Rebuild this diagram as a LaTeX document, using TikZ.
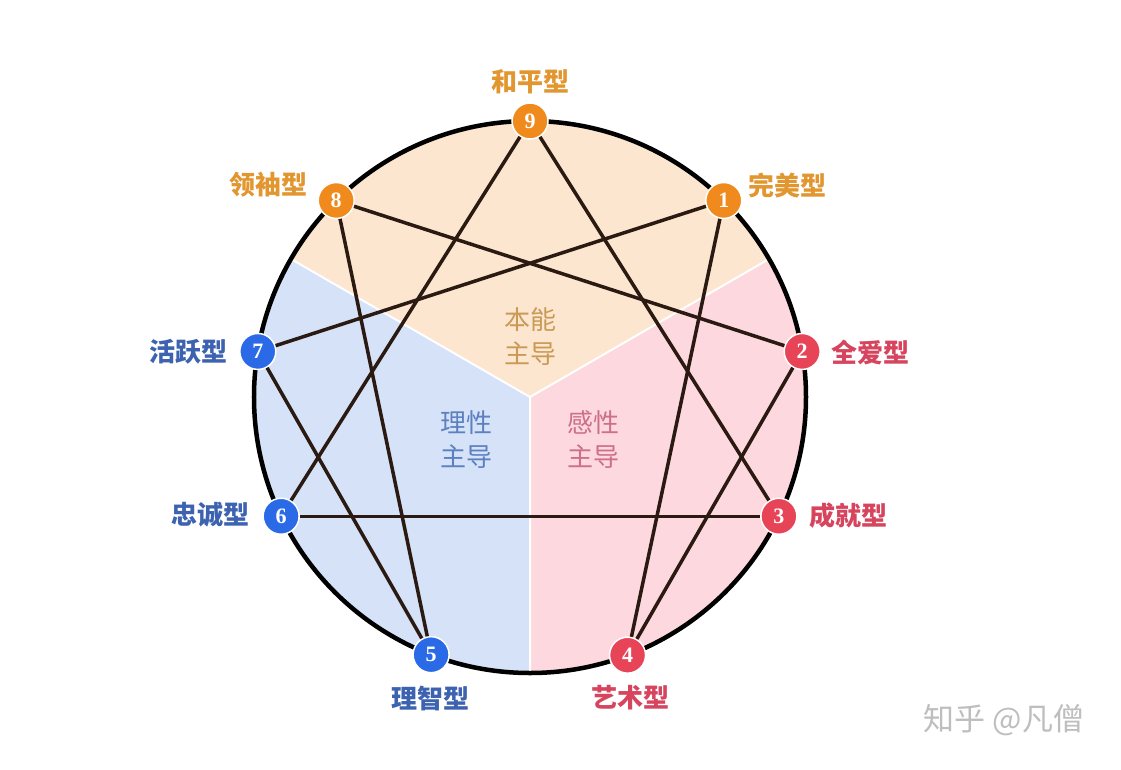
\documentclass[tikz,border=0pt]{standalone}
\usepackage{fontspec}
\usepackage{tikz}
\newfontfamily\cjk{Noto Sans CJK SC}
\newfontfamily\numfont{Liberation Serif}
\definecolor{type_orange}{RGB}{240,138,28}
\definecolor{type_blue}{RGB}{42,106,230}
\definecolor{type_red}{RGB}{232,68,88}
\definecolor{label_orange}{RGB}{226,150,48}
\definecolor{label_blue}{RGB}{60,98,176}
\definecolor{label_red}{RGB}{214,68,94}
\definecolor{fill_orange}{RGB}{253,230,207}
\definecolor{fill_blue}{RGB}{213,226,248}
\definecolor{fill_red}{RGB}{253,216,223}
\definecolor{edge_dark}{RGB}{43,26,18}

\begin{document}
\begin{tikzpicture}[x=1pt,y=1pt]
    \tikzstyle{point}=[circle, draw=white, line width=1.5pt, minimum size=36pt, inner sep=0pt, text=white, font=\numfont\bfseries\fontsize{22}{22}\selectfont]
    \tikzstyle{tname}=[font=\cjk\bfseries\fontsize{26}{26}\selectfont]
    \tikzstyle{group}=[align=center, font=\cjk\fontsize{26}{34}\selectfont]
    \tikzstyle{line}=[edge_dark, line width=3.5pt]

    \useasboundingbox (-530,-372) rectangle (591,397);

    % three centres
    \fill[fill_orange] (0,0) -- (30:276) arc (30:150:276) -- cycle;
    \fill[fill_blue]   (0,0) -- (150:276) arc (150:270:276) -- cycle;
    \fill[fill_red]    (0,0) -- (270:276) arc (270:390:276) -- cycle;
    \draw[white, line width=2pt] (30:276) -- (0,0) -- (150:276) (0,0) -- (270:276);
    \draw[black, line width=4.5pt] (0,0) circle (276);

    \node[group, text={rgb,255:red,201;green,154;blue,85}] (gut)   at (0,60)    {本能\\主导};
    \node[group, text={rgb,255:red,92;green,128;blue,192}] (head)  at (-63,-43) {理性\\主导};
    \node[group, text={rgb,255:red,204;green,112;blue,136}] (heart) at (63,-43)  {感性\\主导};

    \node[point, fill=type_orange] (n9) at (90:276)    {9};
    \node[point, fill=type_orange] (n1) at (45.4:276)  {1};
    \node[point, fill=type_red]    (n2) at (9.5:276)   {2};
    \node[point, fill=type_red]    (n3) at (-25.6:276) {3};
    \node[point, fill=type_red]    (n4) at (-69.3:276) {4};
    \node[point, fill=type_blue]   (n5) at (249:276)   {5};
    \node[point, fill=type_blue]   (n6) at (205.6:276) {6};
    \node[point, fill=type_blue]   (n7) at (170.5:276) {7};
    \node[point, fill=type_orange] (n8) at (134.6:276) {8};

    \node[tname, text=label_orange] (l9) at (0,315)     {和平型};
    \node[tname, text=label_orange] (l1) at (257,212)   {完美型};
    \node[tname, text=label_red]    (l2) at (340,45)    {全爱型};
    \node[tname, text=label_red]    (l3) at (318,-119)  {成就型};
    \node[tname, text=label_red]    (l4) at (100,-301)  {艺术型};
    \node[tname, text=label_blue]   (l5) at (-99,-301)  {理智型};
    \node[tname, text=label_blue]   (l6) at (-319,-118) {忠诚型};
    \node[tname, text=label_blue]   (l7) at (-341,45)   {活跃型};
    \node[tname, text=label_orange] (l8) at (-261,212)  {领袖型};

    \node[font=\cjk\fontsize{31}{31}\selectfont, text={rgb,255:red,190;green,190;blue,190}] (mark) at (474,-323) {知乎 @凡僧};

    \path[line]
     (n9) edge (n3)
     (n9) edge (n6)
     (n6) edge (n3)
     (n1) edge (n4)
     (n4) edge (n2)
     (n2) edge (n8)
     (n8) edge (n5)
     (n5) edge (n7)
     (n7) edge (n1)
     ;
\end{tikzpicture}
\end{document}
